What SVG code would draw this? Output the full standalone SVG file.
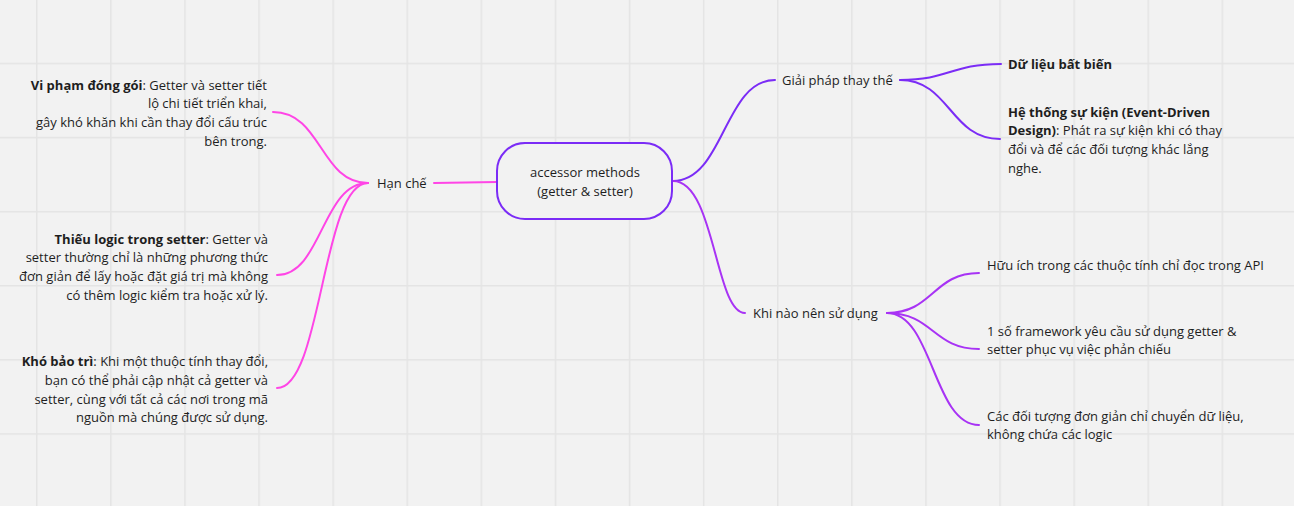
<svg xmlns="http://www.w3.org/2000/svg" width="1294" height="506" viewBox="0 0 1294 506">
  <defs>
    <pattern id="grid" patternUnits="userSpaceOnUse" x="36" y="62.7" width="74.1" height="74.1">
      <path d="M0.75,0 V74.1 M0,0.75 H74.1" fill="none" stroke="#e4e4e4" stroke-width="1.5"/>
    </pattern>
  </defs>
  <style>
    text { font-family: "Open Sans", "Noto Sans", "DejaVu Sans", sans-serif; font-size: 13px; fill: #1e1e1e; }
    .b { font-weight: 700; }
    .end { text-anchor: end; }
    .mid { text-anchor: middle; }
    .pink { fill: none; stroke: #ff45e6; stroke-width: 2; stroke-linecap: round; }
    .violet { fill: none; stroke: #7b2cf6; stroke-width: 2; stroke-linecap: round; }
    .mag { fill: none; stroke: #a833f5; stroke-width: 2; stroke-linecap: round; }
  </style>
  <rect width="1294" height="506" fill="#f2f2f2"/>
  <rect width="1294" height="506" fill="url(#grid)"/>

  <g id="connectors">
    <path class="pink" d="M434,183 L497,182"/>
    <path class="pink" d="M368,183 C320,183 322,112 273,112"/>
    <path class="pink" d="M368,183 C322,183 322,275 277,275"/>
    <path class="pink" d="M368,183 C322,183 322,388 277,388"/>
    <path class="violet" d="M673,181 C724,181 724,80 775,80"/>
    <path class="mag" d="M673,181 C715,181 715,313 745,313"/>
    <path class="violet" d="M900,80 C950,80 950,64 1001,64"/>
    <path class="violet" d="M900,80 C950,80 950,139 1000,139"/>
    <path class="mag" d="M887,313 C933,313 933,273 979,273"/>
    <path class="mag" d="M887,313 C933,313 933,349 979,349"/>
    <path class="mag" d="M887,313 C933,313 933,425 979,425"/>
  </g>

  <g id="root">
    <rect x="497" y="143" width="175" height="76" rx="28" fill="#f2f2f2" stroke="#7b2cf6" stroke-width="2"/>
    <text class="mid" x="585" y="177">accessor methods</text>
    <text class="mid" x="585" y="196">(getter &amp; setter)</text>
  </g>

  <g id="han-che">
    <text x="377" y="187.5">Hạn chế</text>
  </g>

  <g id="vi-pham">
    <text class="end" x="267" y="89.5"><tspan class="b">Vi phạm đóng gói</tspan>: Getter và setter tiết</text>
    <text class="end" x="267" y="108.2">lộ chi tiết triển khai,</text>
    <text class="end" x="267" y="126.9">gây khó khăn khi cần thay đổi cấu trúc</text>
    <text class="end" x="267" y="145.6">bên trong.</text>
  </g>

  <g id="thieu-logic">
    <text class="end" x="268" y="243.5"><tspan class="b">Thiếu logic trong setter</tspan>: Getter và</text>
    <text class="end" x="268" y="262.2">setter thường chỉ là những phương thức</text>
    <text class="end" x="268" y="280.9">đơn giản để lấy hoặc đặt giá trị mà không</text>
    <text class="end" x="268" y="299.6">có thêm logic kiểm tra hoặc xử lý.</text>
  </g>

  <g id="kho-bao-tri">
    <text class="end" x="268" y="366.2"><tspan class="b">Khó bảo trì</tspan>: Khi một thuộc tính thay đổi,</text>
    <text class="end" x="268" y="384.9">bạn có thể phải cập nhật cả getter và</text>
    <text class="end" x="268" y="403.6">setter, cùng với tất cả các nơi trong mã</text>
    <text class="end" x="268" y="422.3">nguồn mà chúng được sử dụng.</text>
  </g>

  <g id="giai-phap">
    <text x="782" y="84.5">Giải pháp thay thế</text>
  </g>

  <g id="du-lieu">
    <text class="b" x="1008" y="68.5">Dữ liệu bất biến</text>
  </g>

  <g id="he-thong">
    <text x="1008" y="116.5"><tspan class="b">Hệ thống sự kiện (Event-Driven</tspan></text>
    <text x="1008" y="135.2"><tspan class="b">Design)</tspan>: Phát ra sự kiện khi có thay</text>
    <text x="1008" y="153.9">đổi và để các đối tượng khác lắng</text>
    <text x="1008" y="172.6">nghe.</text>
  </g>

  <g id="khi-nao">
    <text x="753" y="317.5">Khi nào nên sử dụng</text>
  </g>

  <g id="huu-ich">
    <text x="987" y="269.5">Hữu ích trong các thuộc tính chỉ đọc trong API</text>
  </g>

  <g id="framework">
    <text x="987" y="335.5">1 số framework yêu cầu sử dụng getter &amp;</text>
    <text x="987" y="354.2">setter phục vụ việc phản chiếu</text>
  </g>

  <g id="doi-tuong">
    <text x="987" y="420.5">Các đối tượng đơn giản chỉ chuyển dữ liệu,</text>
    <text x="987" y="439.2">không chứa các logic</text>
  </g>
</svg>
